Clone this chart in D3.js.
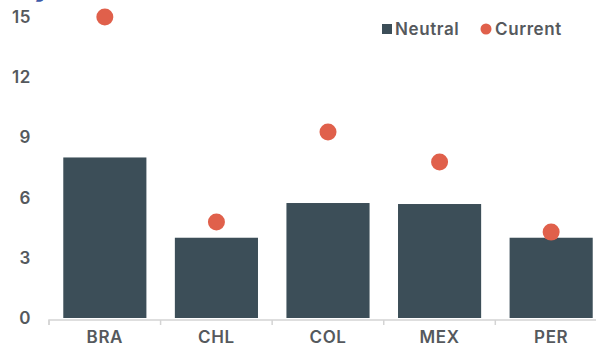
<!DOCTYPE html>
<html>
<head>
<meta charset="utf-8">
<script src="https://cdn.jsdelivr.net/npm/d3@7"></script>
<style>
  body { margin: 0; background: #fff; }
  svg { display: block; font-family: Inter, "Liberation Sans", sans-serif; }
</style>
</head>
<body>
<svg id="chart" width="596" height="344"></svg>
<script>
"use strict";

// data
const countries = ["BRA", "CHL", "COL", "MEX", "PER"];
const neutral = [8.0, 4.0, 5.73, 5.68, 4.0];
const current = [15.0, 4.78, 9.27, 7.77, 4.28];
const yTicks = [0, 3, 6, 9, 12, 15];
const titleText = "Key interest rates: neutral and current (%)";

const BAR = "#3c4e58";
const DOT = "#e0604b";
const GREY = "#55595d";
const FS = 17;

const svg = d3.select("#chart");

const x = d3.scaleBand()
    .domain(countries)
    .range([49, 607])
    .paddingInner(0.255)
    .paddingOuter(0.128);

const y = d3.scaleLinear()
    .domain([0, 15])
    .range([318, 17]);

// title, mostly cut off above the frame
svg.append("text")
    .attr("x", 0)
    .attr("y", -2)
    .attr("textLength", 562)
    .attr("lengthAdjust", "spacingAndGlyphs")
    .attr("fill", "#3d5aa8")
    .attr("font-size", 18)
    .attr("font-weight", 600)
    .text(titleText);

const styleText = sel => sel
    .attr("fill", GREY)
    .attr("font-size", FS)
    .attr("font-weight", 600)
    .attr("letter-spacing", 0.6)
    .attr("font-family", "Inter, sans-serif");

// y axis labels, no line
const yAxis = svg.append("g")
    .attr("transform", "translate(31,0)")
    .call(d3.axisLeft(y).tickValues(yTicks).tickSize(0).tickPadding(0));
yAxis.select(".domain").remove();
yAxis.selectAll("text").call(styleText);

// x axis
const xAxis = svg.append("g")
    .attr("transform", "translate(0,320)")
    .call(d3.axisBottom(x).tickSize(0));
xAxis.select(".domain")
    .attr("stroke", "#d4d4d4")
    .attr("stroke-width", 1.5)
    .attr("d", "M49,5V0H607V5");
xAxis.selectAll(".tick-line")
    .data(d3.range(countries.length + 1))
    .enter().append("line")
      .attr("x1", i => 49 + i * x.step())
      .attr("x2", i => 49 + i * x.step())
      .attr("y1", 0)
      .attr("y2", 5)
      .attr("stroke", "#d4d4d4")
      .attr("stroke-width", 1.5);
xAxis.selectAll(".tick text")
    .attr("y", 23)
    .attr("dy", 0)
    .call(styleText);

// bars
svg.append("g").selectAll("rect")
    .data(countries)
    .enter().append("rect")
      .attr("x", d => x(d))
      .attr("width", x.bandwidth())
      .attr("y", (d, i) => y(neutral[i]))
      .attr("height", (d, i) => y(0) - y(neutral[i]))
      .attr("fill", BAR);

// dots
svg.append("g").selectAll("circle")
    .data(countries)
    .enter().append("circle")
      .attr("cx", d => x(d) + x.bandwidth() / 2)
      .attr("cy", (d, i) => y(current[i]))
      .attr("r", 8.5)
      .attr("fill", DOT);

// legend
const legend = svg.append("g");
legend.append("rect")
    .attr("x", 382).attr("y", 24).attr("width", 10).attr("height", 10)
    .attr("fill", BAR);
legend.append("text").attr("x", 395).attr("y", 35).text("Neutral").call(styleText);
legend.append("circle")
    .attr("cx", 486).attr("cy", 29).attr("r", 5.5)
    .attr("fill", DOT);
legend.append("text").attr("x", 495).attr("y", 35).text("Current").call(styleText);
</script>
</body>
</html>
